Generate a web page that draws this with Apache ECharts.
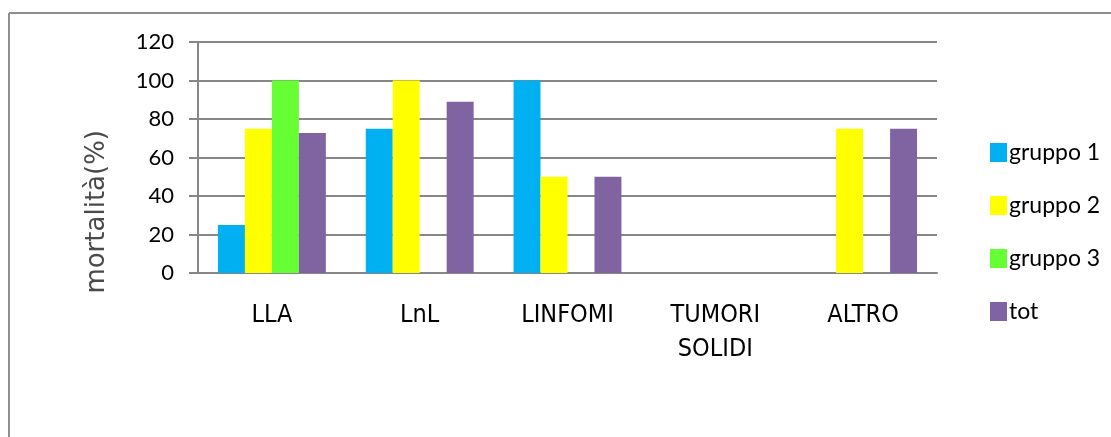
<!DOCTYPE html>
<html>
<head>
<meta charset="utf-8">
<script src="https://cdn.jsdelivr.net/npm/echarts@6/dist/echarts.min.js"></script>
<style>
  html, body { margin: 0; padding: 0; background: #fff; }
  #chart { width: 1111px; height: 437px; }
</style>
</head>
<body>
<div id="chart"></div>
<script>
// Mortalità per diagnosi e gruppo
const categories = ['LLA', 'LnL', 'LINFOMI', 'TUMORI\nSOLIDI', 'ALTRO'];
const gruppo1 = [25, 75, 100, 0, 0];
const gruppo2 = [75, 100, 50, 0, 75];
const gruppo3 = [100, 0, 0, 0, 0];
const tot = [72.7, 88.9, 50, 0, 75];
const yTicks = [0, 20, 40, 60, 80, 100, 120];
const yTitle = 'mortalità(%)';

const seriesDefs = [
  { name: 'gruppo 1', data: gruppo1, color: '#00B0F0' },
  { name: 'gruppo 2', data: gruppo2, color: '#FFFF00' },
  { name: 'gruppo 3', data: gruppo3, color: '#66FF33' },
  { name: 'tot', data: tot, color: '#8064A2' }
];

const FONT = 'Lato, "Open Sans", "Liberation Sans", sans-serif';
const NARROW = '"Liberation Sans Narrow", "DejaVu Sans Condensed", "Roboto Condensed", Lato, sans-serif';
const grey = '#878787';

const chart = echarts.init(document.getElementById('chart'), null, { renderer: 'canvas' });
chart.setOption({
  animation: false,
  backgroundColor: '#fff',
  graphic: [
    // frame: top and left edges
    { type: 'line', silent: true, shape: { x1: 9, y1: 13, x2: 1111, y2: 13 },
      style: { stroke: '#8f8f8f', lineWidth: 2 } },
    { type: 'line', silent: true, shape: { x1: 9, y1: 13, x2: 9, y2: 437 },
      style: { stroke: '#8f8f8f', lineWidth: 2 } },
    // vertical axis title
    { type: 'text', silent: true, left: 84, top: 130, rotation: Math.PI / 2,
      style: { text: yTitle, font: '26px "DejaVu Sans", sans-serif', fill: '#4a4a4a' } }
  ],
  grid: { left: 198, right: 174, top: 42, bottom: 164 },
  legend: {
    orient: 'vertical',
    left: 985, top: 136,
    itemWidth: 17, itemHeight: 19, itemGap: 30,
    icon: 'rect',
    textStyle: { fontFamily: FONT, fontSize: 23, color: '#000', padding: [0, 0, 0, -3] },
    data: seriesDefs.map(s => s.name)
  },
  xAxis: {
    type: 'category',
    data: categories,
    axisLine: { lineStyle: { color: grey, width: 2 } },
    axisTick: { length: 8, lineStyle: { color: grey, width: 2 } },
    axisLabel: {
      fontFamily: NARROW, fontSize: 25, color: '#000',
      margin: 25, lineHeight: 34
    }
  },
  yAxis: {
    type: 'value',
    min: 0, max: 120, interval: 20,
    axisLine: { show: true, lineStyle: { color: grey, width: 2 } },
    axisTick: { show: true, length: 9, lineStyle: { color: grey, width: 2 } },
    splitLine: { lineStyle: { color: grey, width: 2 } },
    axisLabel: {
      fontFamily: FONT, fontSize: 22, color: '#000', margin: 24,
      formatter: v => yTicks.includes(v) ? String(v) : ''
    }
  },
  series: seriesDefs.map(s => ({
    type: 'bar',
    name: s.name,
    data: s.data,
    barGap: '0%',
    barCategoryGap: '27%',
    itemStyle: { color: s.color }
  }))
});
</script>
</body>
</html>
